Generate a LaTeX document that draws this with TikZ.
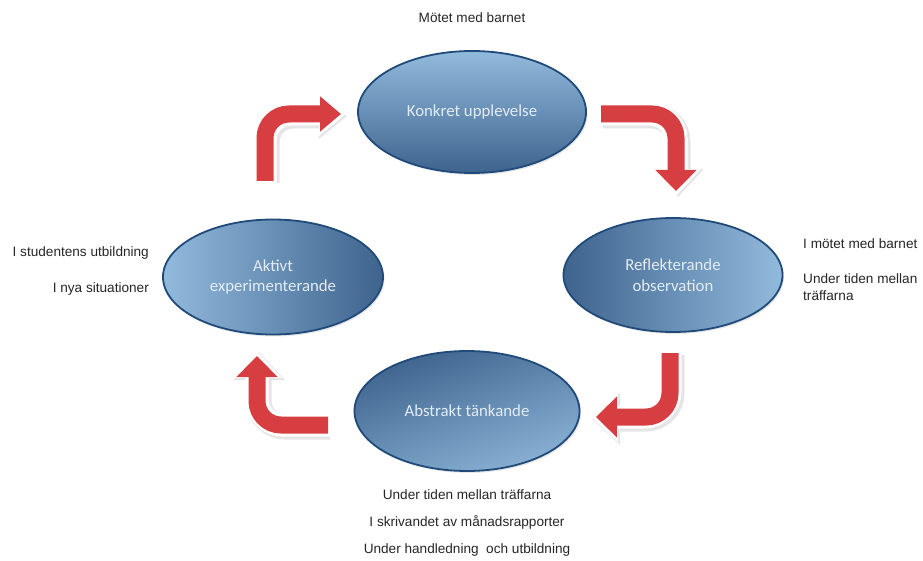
\documentclass[tikz,border=0pt]{standalone}
\usepackage{fontspec}
\setmainfont{Liberation Sans}
\newfontfamily\cfont{Carlito}
\usetikzlibrary{arrows.meta,shapes.geometric,calc,shadows}
\definecolor{arrowred}{RGB}{214,62,66}
\definecolor{elldark}{RGB}{62,100,142}
\definecolor{elllight}{RGB}{146,186,220}
\definecolor{ellrim}{RGB}{32,74,122}
\definecolor{elltext}{RGB}{228,236,244}
\tikzset{
  x=1pt, y=-1pt,
  phase/.style={ellipse, draw=ellrim, line width=1.8pt, inner sep=0pt,
    font=\cfont\fontsize{16.8}{20.5}\selectfont, text=elltext, align=center,
    drop shadow={opacity=0.18, shadow xshift=1.5pt, shadow yshift=-2pt}},
  note/.style={font=\fontsize{13.6}{17}\selectfont, text=black!85, inner sep=0pt},
  redshaft/.style={draw=arrowred, line width=17pt, rounded corners=24pt,
    -{Triangle[length=21pt,width=#1]}},
  rimshaft/.style={draw=white, line width=23pt, rounded corners=26pt,
    -{Triangle[length=27pt,width=#1]}},
  shadowshaft/.style={draw=black!10, line width=25pt, rounded corners=26pt,
    -{Triangle[length=28pt,width=#1]}},
}
\begin{document}
\begin{tikzpicture}
\useasboundingbox (0,0) rectangle (923,561);
\fill[white] (0,0) rectangle (923,561);

% ellipses
\node[phase, minimum width=228pt, minimum height=122pt,
  top color=elllight, bottom color=elldark] (konk) at (472,112) {Konkret upplevelse};
\node[phase, minimum width=219pt, minimum height=114pt,
  left color=elldark, right color=elllight] (refl) at (673,275) {Reflekterande\\observation};
\node[phase, minimum width=220pt, minimum height=115pt,
  left color=elllight, right color=elldark] (akt) at (273,277) {Aktivt\\experimenterande};
\node[phase, minimum width=225pt, minimum height=120pt,
  shading=axis, top color=elldark, bottom color=elllight!90!elldark, shading angle=20] (abst) at (467,411) {Abstrakt tänkande};

% arrow coordinates
\coordinate (a1s) at (265,181);  \coordinate (a1t) at (341,114);
\coordinate (a2s) at (601,114);  \coordinate (a2t) at (676,191);
\coordinate (a3s) at (670,353);  \coordinate (a3t) at (596,417);
\coordinate (a4s) at (328,425);  \coordinate (a4t) at (257,356);

% shadows
\draw[shadowshaft=44pt] ($(a1s)+(2,2)$) |- ($(a1t)+(6,2)$);
\draw[shadowshaft=50pt] ($(a2s)+(2,2)$) -| ($(a2t)+(2,6)$);
\draw[shadowshaft=50pt] ($(a3s)+(2,2)$) |- ($(a3t)+(-4,2)$);
\draw[shadowshaft=50pt] ($(a4s)+(2,2)$) -| ($(a4t)+(2,-4)$);
% white rims
\draw[rimshaft=42pt] ($(a1s)+(0,3)$) |- ($(a1t)+(5,0)$);
\draw[rimshaft=48pt] ($(a2s)+(-3,0)$) -| ($(a2t)+(0,5)$);
\draw[rimshaft=48pt] ($(a3s)+(0,-3)$) |- ($(a3t)+(-5,0)$);
\draw[rimshaft=48pt] ($(a4s)+(3,0)$) -| ($(a4t)+(0,-5)$);
% red arrows
\draw[redshaft=34pt] (a1s) |- (a1t);
\draw[redshaft=40pt] (a2s) -| (a2t);
\draw[redshaft=40pt] (a3s) |- (a3t);
\draw[redshaft=40pt] (a4s) -| (a4t);

% notes
\node[note] (n1) at (472,18) {Mötet med barnet};
\node[note, anchor=base west] (n2) at (803,249) {I mötet med barnet};
\node[note, anchor=base west, align=left] (n3) at (803,300) {Under tiden mellan\\träffarna};
\node[note, anchor=base east] (n4) at (149,257) {I studentens utbildning};
\node[note, anchor=base east] (n5) at (149,292) {I nya situationer};
\node[note] (n6) at (467,495) {Under tiden mellan träffarna};
\node[note] (n7) at (467,522) {I skrivandet av månadsrapporter};
\node[note] (n8) at (467,550) {Under handledning\ \ och utbildning};
\end{tikzpicture}
\end{document}
